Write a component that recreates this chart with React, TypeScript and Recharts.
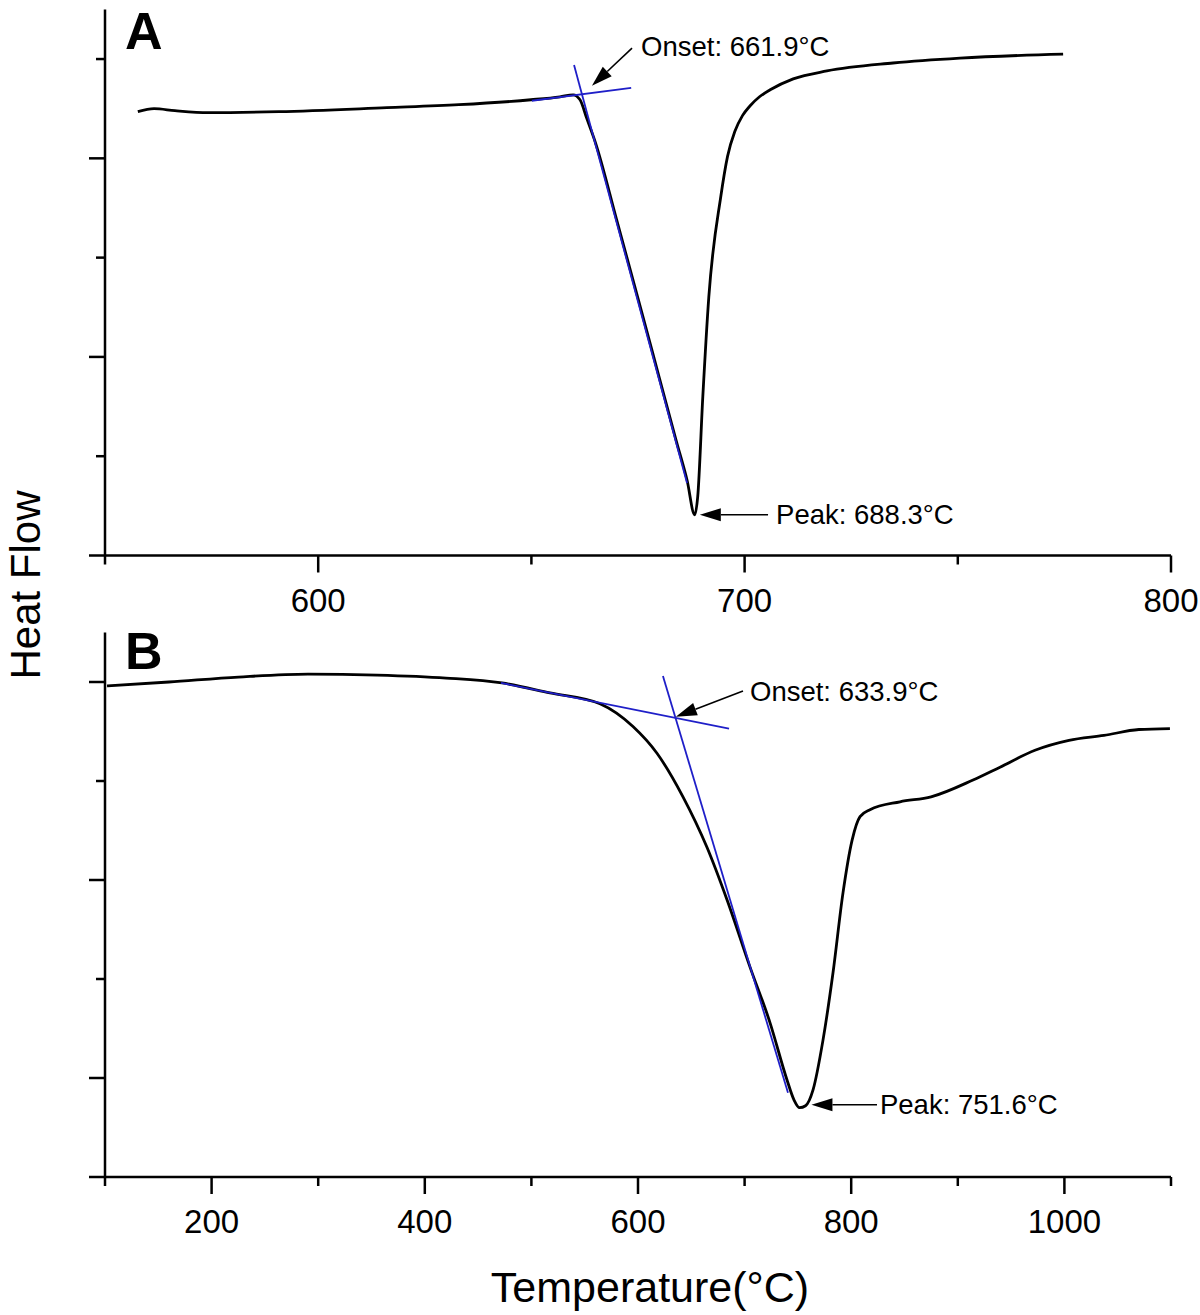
import React from 'react';
import { LineChart, Line, XAxis, YAxis, ReferenceLine } from 'recharts';

// Panel A: narrow-range DSC scan
const tempA = [557.7, 561.5, 566.4, 574.2, 590.8, 616.1, 633.0, 649.9, 656.7, 659.8, 661.4, 663.0, 665.0, 670.0, 675.0, 680.0, 684.0, 686.5, 688.3, 689.0, 690.2, 691.6, 694.4, 696.0, 697.7, 699.5, 701.3, 703.5, 706.0, 711.4, 719.3, 734.8, 750.5, 774.7];
const heatA = [4.47, 4.5, 4.48, 4.46, 4.47, 4.51, 4.54, 4.59, 4.62, 4.64, 4.59, 4.4, 4.16, 3.38, 2.59, 1.79, 1.15, 0.76, 0.41, 0.59, 1.6, 2.6, 3.61, 4.02, 4.27, 4.43, 4.53, 4.62, 4.69, 4.8, 4.88, 4.96, 5.01, 5.05];

// Panel B: wide-range DSC scan
const tempB = [101.9, 160.0, 225.2, 290.4, 355.2, 419.9, 472.4, 517.4, 564.3, 595.3, 617.8, 642.2, 664.7, 683.5, 705.1, 723.8, 739.8, 746.3, 751.6, 757.2, 764.2, 773.5, 782.9, 792.3, 800.8, 808.3, 817.6, 845.8, 874.9, 914.3, 939.6, 972.4, 1004.3, 1037.1, 1069.9, 1099.0];
const heatB = [4.96, 5.0, 5.05, 5.08, 5.07, 5.04, 4.99, 4.89, 4.78, 4.55, 4.28, 3.84, 3.33, 2.8, 2.12, 1.56, 0.98, 0.78, 0.7, 0.72, 0.88, 1.38, 2.06, 2.87, 3.4, 3.64, 3.71, 3.79, 3.84, 4.01, 4.14, 4.31, 4.41, 4.46, 4.52, 4.53];

const xTicksA = [550, 600, 650, 700, 750, 800];
const xMajorA = [600, 700, 800];
const yTicksA = [0, 1, 2, 3, 4, 5];
const yMajorA = [0, 2, 4];

const xTicksB = [100, 200, 300, 400, 500, 600, 700, 800, 900, 1000, 1100];
const xMajorB = [200, 400, 600, 800, 1000];
const yTicksB = [0, 1, 2, 3, 4, 5];
const yMajorB = [0, 1, 3, 5];

// tangent construction lines [t1, h1, t2, h2]
const tangentsA = [
  [650.1, 4.58, 673.4, 4.71],
  [660.0, 4.94, 686.5, 0.73],
];
const tangentsB = [
  [471.5, 4.99, 685.4, 4.53],
  [623.4, 5.06, 740.7, 0.85],
];

const dataA = tempA.map((t, i) => ({ t, h: heatA[i] }));
const dataB = tempB.map((t, i) => ({ t, h: heatB[i] }));

const FONT = '"Liberation Sans", Arial, Helvetica, sans-serif';
const BLUE = '#1f1fc8';

const xTick = (majors: number[]) => (props: any) => {
  const { x, y, payload } = props;
  const major = majors.includes(payload.value);
  return (
    <g>
      <line x1={x} y1={y} x2={x} y2={y + (major ? 17 : 9)} stroke="#000" strokeWidth={2.5} />
      {major && (
        <text x={x} y={y + 56} textAnchor="middle" fontSize={33} fontFamily={FONT} fill="#000">
          {payload.value}
        </text>
      )}
    </g>
  );
};

const yTick = (majors: number[]) => (props: any) => {
  const { x, y, payload } = props;
  const major = majors.includes(payload.value);
  return <line x1={x} y1={y} x2={x - (major ? 16 : 9)} y2={y} stroke="#000" strokeWidth={2.5} />;
};

const arrow = (label: string, dx: number, dy: number) => (p: any) => {
  const { x1, y1, x2, y2 } = p;
  const a = Math.atan2(y2 - y1, x2 - x1);
  const L = 21;
  const W = 6.5;
  const bx = x2 - L * Math.cos(a);
  const by = y2 - L * Math.sin(a);
  const pts = `${x2},${y2} ${bx - W * Math.sin(a)},${by + W * Math.cos(a)} ${bx + W * Math.sin(a)},${by - W * Math.cos(a)}`;
  return (
    <g>
      <line x1={x1} y1={y1} x2={bx} y2={by} stroke="#000" strokeWidth={1.6} />
      <polygon points={pts} fill="#000" />
      <text x={x1 + dx} y={y1 + dy} fontSize={27.5} fontFamily={FONT} fill="#000">
        {label}
      </text>
    </g>
  );
};

const App: React.FC = () => {
  return (
    <div style={{ position: 'absolute', left: 0, top: 0, width: 1200, height: 1315, background: '#fff' }}>
      <div style={{ position: 'absolute', left: 0, top: 0 }}>
        <LineChart width={1200} height={625} data={dataA} margin={{ top: 9.4, right: 29, bottom: 9.5, left: 45 }}>
          <XAxis
            dataKey="t"
            type="number"
            domain={[550, 800]}
            ticks={xTicksA}
            interval={0}
            allowDataOverflow
            height={60}
            tickSize={0}
            tickMargin={0}
            tickLine={false}
            axisLine={{ stroke: '#000', strokeWidth: 2.5 }}
            tick={xTick(xMajorA)}
          />
          <YAxis
            type="number"
            domain={[0, 5.5]}
            ticks={yTicksA}
            interval={0}
            allowDataOverflow
            width={60}
            tickSize={0}
            tickMargin={0}
            tickLine={false}
            axisLine={{ stroke: '#000', strokeWidth: 2.5 }}
            tick={yTick(yMajorA)}
          />
          <Line type="monotone" dataKey="h" stroke="#000" strokeWidth={2.8} dot={false} isAnimationActive={false} />
          {tangentsA.map((s, i) => (
            <ReferenceLine
              key={i}
              segment={[{ x: s[0], y: s[1] }, { x: s[2], y: s[3] }]}
              stroke={BLUE}
              strokeWidth={1.8}
              ifOverflow="visible"
            />
          ))}
          <ReferenceLine
            segment={[{ x: 673.6, y: 5.11 }, { x: 664.2, y: 4.73 }]}
            ifOverflow="visible"
            shape={arrow('Onset: 661.9°C', 9, 8)}
          />
          <ReferenceLine
            segment={[{ x: 705.5, y: 0.41 }, { x: 689.5, y: 0.41 }]}
            ifOverflow="visible"
            shape={arrow('Peak: 688.3°C', 8, 9)}
          />
        </LineChart>
      </div>

      <div style={{ position: 'absolute', left: 0, top: 600 }}>
        <LineChart width={1200} height={715} data={dataB} margin={{ top: 32.5, right: 29, bottom: 78, left: 45 }}>
          <XAxis
            dataKey="t"
            type="number"
            domain={[100, 1100]}
            ticks={xTicksB}
            interval={0}
            allowDataOverflow
            height={60}
            tickSize={0}
            tickMargin={0}
            tickLine={false}
            axisLine={{ stroke: '#000', strokeWidth: 2.5 }}
            tick={xTick(xMajorB)}
          />
          <YAxis
            type="number"
            domain={[0, 5.5]}
            ticks={yTicksB}
            interval={0}
            allowDataOverflow
            width={60}
            tickSize={0}
            tickMargin={0}
            tickLine={false}
            axisLine={{ stroke: '#000', strokeWidth: 2.5 }}
            tick={yTick(yMajorB)}
          />
          <Line type="monotone" dataKey="h" stroke="#000" strokeWidth={2.8} dot={false} isAnimationActive={false} />
          {tangentsB.map((s, i) => (
            <ReferenceLine
              key={i}
              segment={[{ x: s[0], y: s[1] }, { x: s[2], y: s[3] }]}
              stroke={BLUE}
              strokeWidth={1.8}
              ifOverflow="visible"
            />
          ))}
          <ReferenceLine
            segment={[{ x: 698.5, y: 4.91 }, { x: 635.5, y: 4.65 }]}
            ifOverflow="visible"
            shape={arrow('Onset: 633.9°C', 7, 10)}
          />
          <ReferenceLine
            segment={[{ x: 824.2, y: 0.73 }, { x: 762.7, y: 0.73 }]}
            ifOverflow="visible"
            shape={arrow('Peak: 751.6°C', 3, 9)}
          />
        </LineChart>
      </div>

      <svg width={1200} height={1315} style={{ position: 'absolute', left: 0, top: 0, pointerEvents: 'none' }}>
        <text x={125} y={49} fontSize={52} fontWeight="bold" fontFamily={FONT} fill="#000">A</text>
        <text x={125} y={669} fontSize={52} fontWeight="bold" fontFamily={FONT} fill="#000">B</text>
        <text
          x={40}
          y={585}
          transform="rotate(-90 40 585)"
          textAnchor="middle"
          fontSize={42}
          fontFamily={FONT}
          fill="#000"
        >
          Heat Flow
        </text>
        <text x={650} y={1302} textAnchor="middle" fontSize={43} fontFamily={FONT} fill="#000">
          Temperature(°C)
        </text>
      </svg>
    </div>
  );
};

export default App;
